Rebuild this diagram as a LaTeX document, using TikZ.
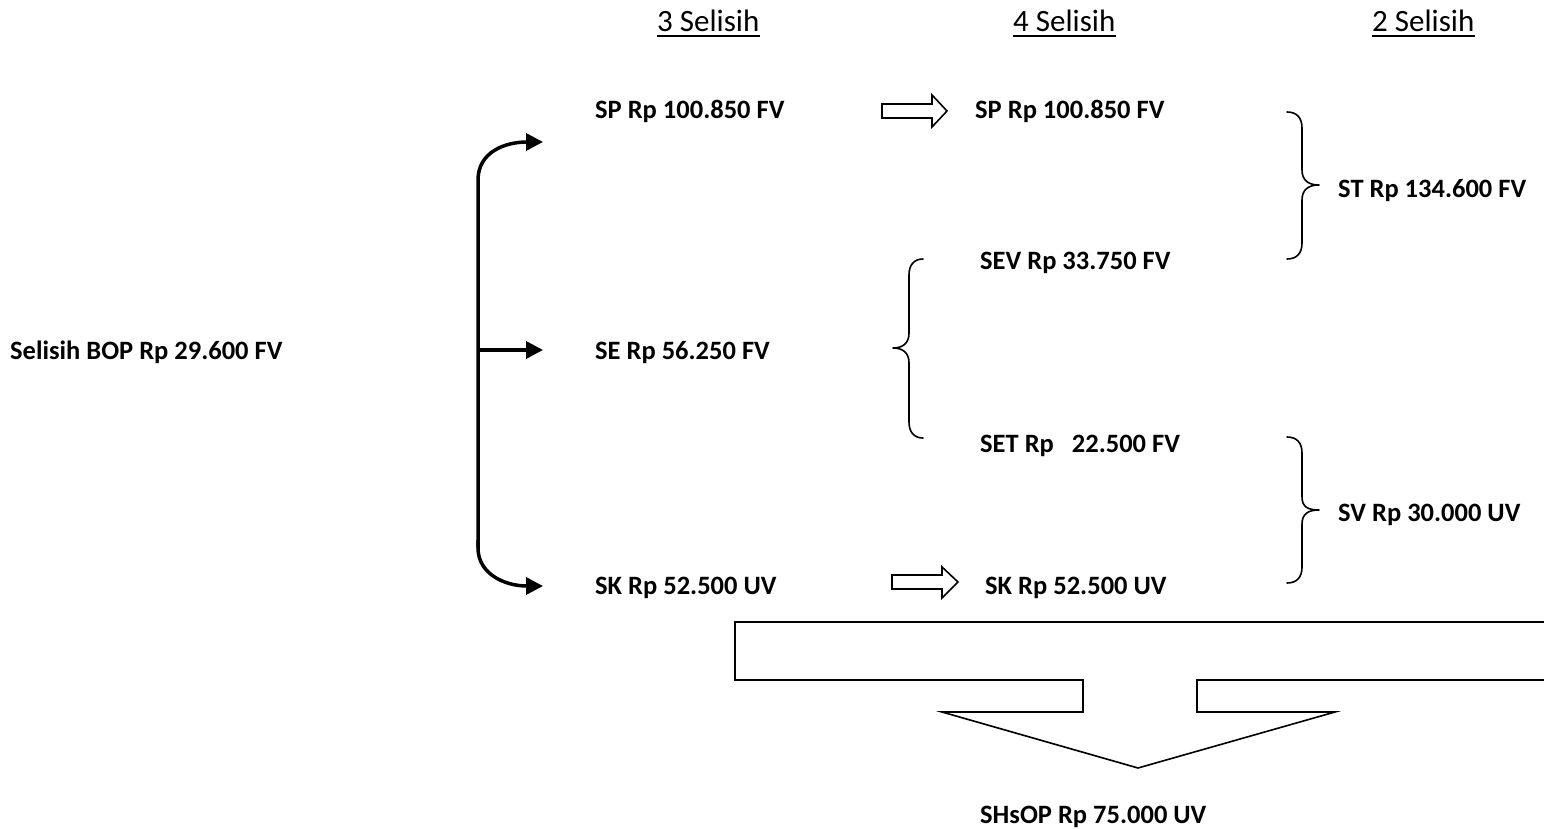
\documentclass[tikz,border=0pt]{standalone}
\usepackage{fontspec}
\setmainfont{Carlito}
\usetikzlibrary{arrows.meta}
\begin{document}
\begin{tikzpicture}[x=1pt,y=-1pt,
 lbl/.style={anchor=base west, inner sep=0pt, font=\fontsize{26.5}{30}\selectfont\bfseries},
 hdr/.style={anchor=base west, inner sep=0pt, font=\fontsize{31}{36}\selectfont},
 uline/.style={line width=2pt},
 bracepath/.style={line width=1.6pt, line cap=round, line join=round},
 hollow/.style={draw, line width=1.6pt, fill=white, line join=miter},
 thick line/.style={line width=3.5pt},
 curv/.style={line width=3.5pt, -{Triangle[length=17pt,width=17pt]}}]
\useasboundingbox (0,0) rectangle (1544,829);
% headers
\node[hdr] (h3) at (657,32) {3 Selisih};
\node[hdr] (h4) at (1013,32) {4 Selisih};
\node[hdr] (h2) at (1372,32) {2 Selisih};
\foreach \h in {h3,h4,h2}{
  \draw[uline] ([yshift=-4.5pt]\h.base west) -- ([yshift=-4.5pt]\h.base east);
}
% labels
\node[lbl] (bop) at (10,359) {Selisih BOP Rp 29.600 FV};
\node[lbl] (sp3) at (595,119) {SP Rp 100.850 FV};
\node[lbl] (se3) at (595,359) {SE Rp 56.250 FV};
\node[lbl] (sk3) at (595,594) {SK Rp 52.500 UV};
\node[lbl] (sp4) at (975,119) {SP Rp 100.850 FV};
\node[lbl] (sev) at (980,269) {SEV Rp 33.750 FV};
\node[lbl] (set) at (980,452) {SET Rp\ \ \ 22.500 FV};
\node[lbl] (sk4) at (985,594) {SK Rp 52.500 UV};
\node[lbl] (st) at (1338,197) {ST Rp 134.600 FV};
\node[lbl] (sv) at (1338,521) {SV Rp 30.000 UV};
\node[lbl] (shs) at (980,823) {SHsOP Rp 75.000 UV};
% branching arrows
\coordinate (topend) at (543,142);
\coordinate (midend) at (543,350);
\coordinate (botend) at (543,586);
\coordinate (trunkmid) at (478,350);
\draw[curv] (478,548) -- (478,180) .. controls (478,152) and (505,142) .. (topend);
\draw[curv] (478,540) -- (478,548) .. controls (478,574) and (505,586) .. (botend);
\draw[curv] (trunkmid) -- (midend);
% hollow arrows
\draw[hollow] (882,104) -- (932,104) -- (932,95) -- (947,111) -- (932,127) -- (932,118) -- (882,118) -- cycle;
\draw[hollow] (892,575) -- (942,575) -- (942,567) -- (958,582) -- (942,598) -- (942,589) -- (892,589) -- cycle;
% braces
\draw[bracepath] (1287,112) .. controls (1297,112) and (1302,118) .. (1302,128)
  -- (1302,170) .. controls (1302,180) and (1308,185) .. (1319,185)
  .. controls (1308,185) and (1302,190) .. (1302,200)
  -- (1302,243) .. controls (1302,253) and (1297,259) .. (1287,259);
\draw[bracepath] (1287,437) .. controls (1297,437) and (1302,443) .. (1302,453)
  -- (1302,497) .. controls (1302,507) and (1308,510) .. (1319,510)
  .. controls (1308,510) and (1302,514) .. (1302,524)
  -- (1302,567) .. controls (1302,577) and (1297,583) .. (1287,583);
\draw[bracepath] (923,259) .. controls (914,259) and (909,265) .. (909,275)
  -- (909,333) .. controls (909,343) and (903,348) .. (893,348)
  .. controls (903,348) and (909,353) .. (909,363)
  -- (909,422) .. controls (909,432) and (914,438) .. (923,438);
% big down arrow
\draw[hollow] (735,622) -- (1550,622) -- (1550,680) -- (1197,680) -- (1197,712) -- (1335,712)
  -- (1138,768) -- (942,712) -- (1083,712) -- (1083,680) -- (735,680) -- cycle;
\end{tikzpicture}
\end{document}
